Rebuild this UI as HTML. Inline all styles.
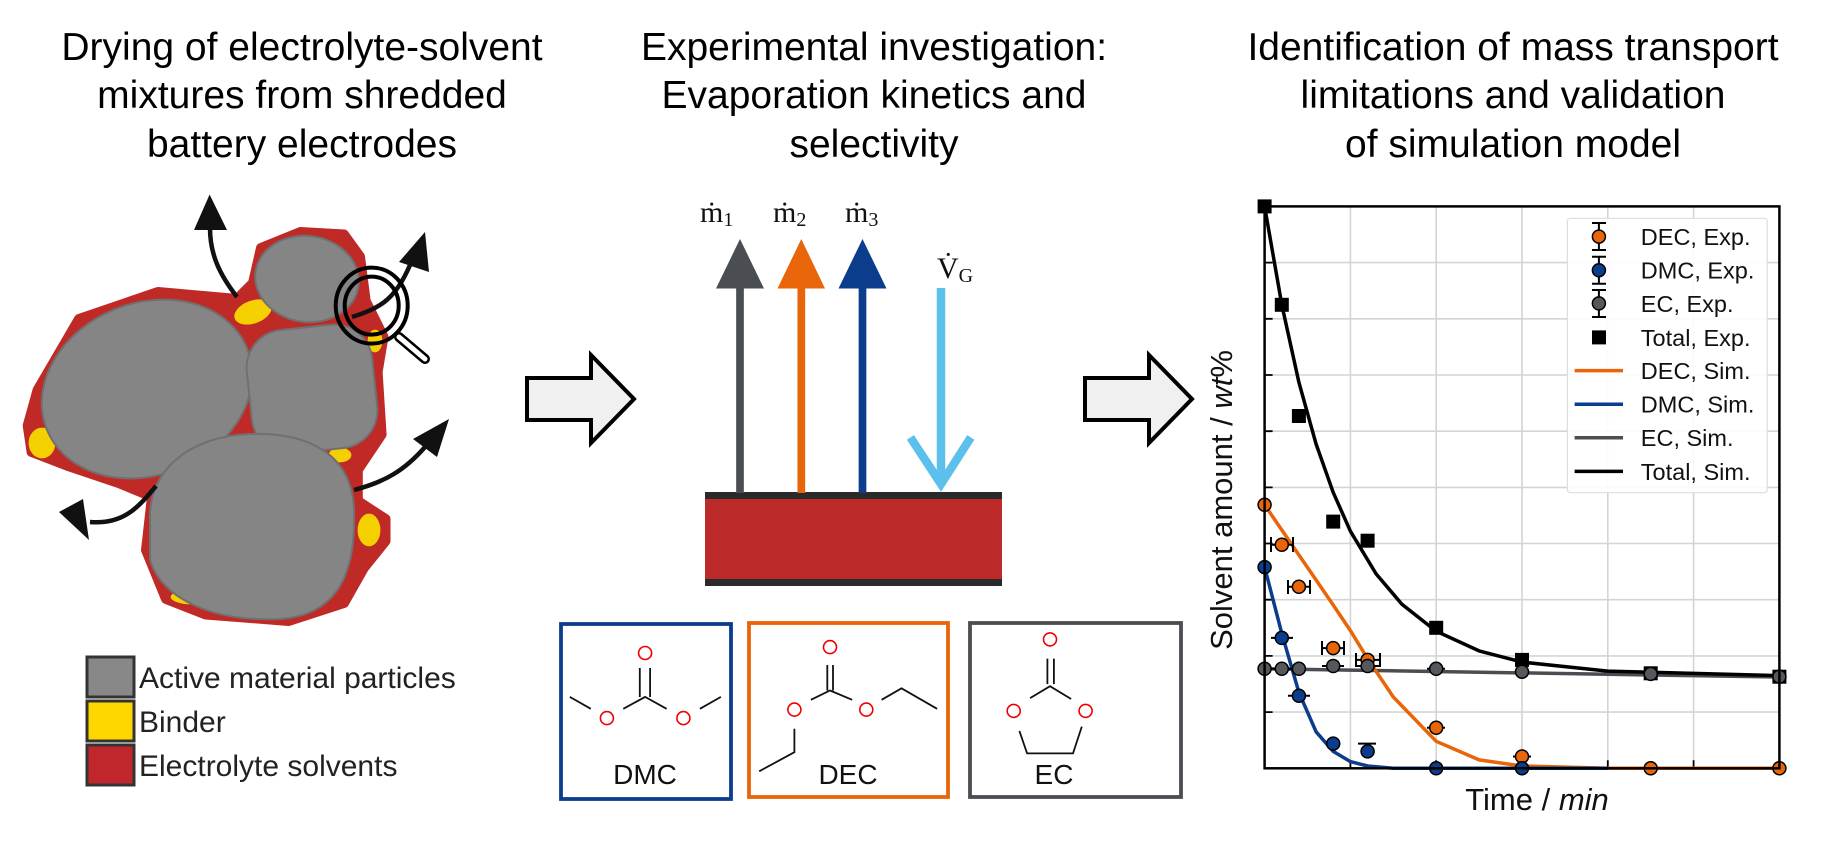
<!DOCTYPE html>
<html><head><meta charset="utf-8"><style>
html,body{margin:0;padding:0;background:#fff;}
svg{display:block;}
text{font-family:"Liberation Sans",Arial,sans-serif;}
.s text{font-family:"Liberation Serif","DejaVu Serif",serif;}
</style></head><body>
<svg width="1833" height="847" viewBox="0 0 1833 847" xmlns="http://www.w3.org/2000/svg">
<rect width="1833" height="847" fill="#fff"/>
<!-- Titles -->
<g font-size="39" fill="#000" text-anchor="middle">
<text x="302" y="60">Drying of electrolyte-solvent</text>
<text x="302" y="108">mixtures from shredded</text>
<text x="302" y="157">battery electrodes</text>
<text x="874" y="60">Experimental investigation:</text>
<text x="874" y="108">Evaporation kinetics and</text>
<text x="874" y="157">selectivity</text>
<text x="1513" y="60">Identification of mass transport</text>
<text x="1513" y="108">limitations and validation</text>
<text x="1513" y="157">of simulation model</text>
</g>

<!-- Panel 1 -->
<polygon points="37.6,390 79,319 158,292 237,299 253,283 261,248 300.5,232 344,234.5 360,256.7 365.7,301 383.5,336.7 377.6,372 381.6,434.5 357.8,470 357.8,501 385.5,519 385.5,541 363.8,568 344,603 288.6,621 205.6,614.5 166,599 146,550 152,496.7 118.6,483 67,465.6 31.6,452 27.7,425.6" fill="#bf2a27" stroke="#bf2a27" stroke-width="10" stroke-linejoin="round"/>
<g fill="#f5d000" stroke="#c0272d" stroke-width="1.2">
<ellipse cx="253" cy="312" rx="20" ry="12" transform="rotate(-20 253 312)"/>
<ellipse cx="172" cy="462" rx="20" ry="13" transform="rotate(-25 172 462)"/>
<ellipse cx="42" cy="443" rx="14" ry="16"/>
<ellipse cx="369" cy="530" rx="12" ry="17"/>
<ellipse cx="192" cy="597" rx="22" ry="8"/>
<ellipse cx="340" cy="455" rx="12" ry="8"/>
<ellipse cx="375" cy="341" rx="8" ry="12"/>
</g>
<g fill="#858585" stroke="#707070" stroke-width="2">
<ellipse cx="147" cy="389" rx="108" ry="86" transform="rotate(-22 147 389)"/>
<ellipse cx="307" cy="279" rx="52" ry="43" transform="rotate(8 307 279)"/>
<rect x="249" y="327" width="126" height="124" rx="38" transform="rotate(-6 312 389)"/>
<path d="M150,520 C148,470 190,436 250,434 C310,432 352,455 354,510 C356,570 340,615 280,619 C215,622 162,600 150,560 Z"/>
</g>
<g fill="none" stroke="#111" stroke-width="4.5">
<path d="M237,297 C220,275 210,255 210,228"/>
<path d="M352,317 C380,308 395,300 410,265"/>
<path d="M354,490 C385,482 405,470 425,447"/>
<path d="M156,486 C140,505 125,525 90,522"/>
</g>
<g fill="#111">
<polygon points="209.6,194.5 194,230 227,230"/>
<polygon points="425,232 399,262 429,272"/>
<polygon points="449,419 413,439 437,457"/>
<polygon points="59,512 83,499 89,540"/>
</g>
<g fill="none" stroke="#000">
<line x1="399" y1="337" x2="425" y2="359" stroke-width="10" stroke-linecap="round"/>
<line x1="399" y1="337" x2="425" y2="359" stroke="#fff" stroke-width="5" stroke-linecap="round"/>
<ellipse cx="371.7" cy="305.6" rx="36" ry="38" stroke-width="4"/>
<ellipse cx="371.7" cy="305.6" rx="27" ry="29" stroke-width="4"/>
</g>
<g stroke="#333" stroke-width="3">
<rect x="87" y="657" width="47" height="40" fill="#888"/>
<rect x="87" y="701" width="47" height="40" fill="#ffd700"/>
<rect x="87" y="745" width="47" height="40" fill="#c0272d"/>
</g>
<g font-size="30" fill="#222">
<text x="139" y="688">Active material particles</text>
<text x="139" y="732">Binder</text>
<text x="139" y="776">Electrolyte solvents</text>
</g>

<!-- hollow arrows -->
<polygon points="527,378 591,378 591,355 634,399 591,443 591,420 527,420" fill="#f0f0f0" stroke="#000" stroke-width="4"/>
<polygon points="1085,378 1149,378 1149,355 1192,399 1149,443 1149,420 1085,420" fill="#f0f0f0" stroke="#000" stroke-width="4"/>

<!-- Panel 2 -->
<rect x="705" y="492" width="297" height="94" fill="#2a2a2a"/>
<rect x="705" y="499" width="297" height="80" fill="#bd2a2a"/>
<g stroke-width="7.7">
<line x1="740" y1="285" x2="740" y2="493" stroke="#4a4d52"/>
<line x1="801.3" y1="285" x2="801.3" y2="493" stroke="#e8650a"/>
<line x1="862.5" y1="285" x2="862.5" y2="493" stroke="#0b3d8c"/>
</g>
<polygon points="740,239 716,288.5 764,288.5" fill="#4a4d52"/>
<polygon points="801.3,239 777.5,288.5 825,288.5" fill="#e8650a"/>
<polygon points="862.5,239 838.5,288.5 886.5,288.5" fill="#0b3d8c"/>
<g stroke="#5bc0eb" stroke-width="8.5" fill="none">
<line x1="941" y1="288" x2="941" y2="484"/>
<polyline points="910.4,437.4 941,484 970.8,437.4"/>
</g>
<g class="s" fill="#111" font-size="30">
<text x="700" y="222">ṁ<tspan font-size="20" dy="4">1</tspan></text>
<text x="773" y="222">ṁ<tspan font-size="20" dy="4">2</tspan></text>
<text x="845" y="222">ṁ<tspan font-size="20" dy="4">3</tspan></text>
<text x="937" y="278">V̇<tspan font-size="20" dy="4">G</tspan></text>
</g>
<g fill="none" stroke-width="3.8">
<rect x="561" y="624" width="170" height="175" stroke="#0b3d8c"/>
<rect x="749" y="623" width="199" height="174" stroke="#e8650a"/>
<rect x="970" y="623" width="211" height="174" stroke="#4a4d52"/>
</g>
<g fill="none" stroke="#111" stroke-width="1.8">
<line x1="639.8" y1="668" x2="639.8" y2="697"/><line x1="650.1" y1="668" x2="650.1" y2="697"/>
<polyline points="623.3,708.8 645.1,696.9 666.6,708.8"/>
<line x1="590.8" y1="708.8" x2="569.8" y2="696.9"/><line x1="699.9" y1="708.8" x2="720.9" y2="696.9"/>
<line x1="827.3" y1="665" x2="827.3" y2="690.5"/><line x1="833" y1="665" x2="833" y2="690.5"/>
<polyline points="810.9,699.8 830,690.5 852.2,699.8"/>
<polyline points="881.6,699.8 901.5,688.3 937.1,708.8"/>
<polyline points="794.4,728.8 794.4,752.2 759.2,771.3"/>
<line x1="1047.4" y1="658.6" x2="1047.4" y2="684.1"/><line x1="1053.9" y1="658.6" x2="1053.9" y2="684.1"/>
<polyline points="1030.1,698.1 1050,686.2 1071.1,699"/>
<polyline points="1019.4,730.9 1027.1,753.4 1073,753.4 1081.8,726.6"/>
</g>
<g fill="none" stroke="#e00" stroke-width="1.6">
<circle cx="645.1" cy="653" r="6.5"/><circle cx="606.9" cy="718.1" r="6.5"/><circle cx="683.4" cy="718.1" r="6.5"/>
<circle cx="830" cy="647.1" r="6.5"/><circle cx="794.4" cy="709.6" r="6.5"/><circle cx="866.3" cy="709.6" r="6.5"/>
<circle cx="1050" cy="639.4" r="6.5"/><circle cx="1013.7" cy="710.9" r="6.5"/><circle cx="1085.6" cy="710.9" r="6.5"/>
</g>
<g font-size="28" fill="#111" text-anchor="middle">
<text x="645" y="784">DMC</text><text x="848" y="784">DEC</text><text x="1054" y="784">EC</text>
</g>

<!-- Panel 3 plot -->
<g stroke="#d4d4d4" stroke-width="1.6">
<line x1="1350.4" y1="206.4" x2="1350.4" y2="768.3"/>
<line x1="1436.2" y1="206.4" x2="1436.2" y2="768.3"/>
<line x1="1522" y1="206.4" x2="1522" y2="768.3"/>
<line x1="1607.8" y1="206.4" x2="1607.8" y2="768.3"/>
<line x1="1693.6" y1="206.4" x2="1693.6" y2="768.3"/>
<line x1="1264.6" y1="262.6" x2="1779.4" y2="262.6"/>
<line x1="1264.6" y1="318.8" x2="1779.4" y2="318.8"/>
<line x1="1264.6" y1="375" x2="1779.4" y2="375"/>
<line x1="1264.6" y1="431.2" x2="1779.4" y2="431.2"/>
<line x1="1264.6" y1="487.4" x2="1779.4" y2="487.4"/>
<line x1="1264.6" y1="543.5" x2="1779.4" y2="543.5"/>
<line x1="1264.6" y1="599.7" x2="1779.4" y2="599.7"/>
<line x1="1264.6" y1="655.9" x2="1779.4" y2="655.9"/>
<line x1="1264.6" y1="712.1" x2="1779.4" y2="712.1"/>
</g>
<g stroke="#000" stroke-width="1.8">
<path d="M1264.6,262.6h8M1264.6,318.8h8M1264.6,375h8M1264.6,431.2h8M1264.6,487.4h8M1264.6,543.5h8M1264.6,599.7h8M1264.6,655.9h8M1264.6,712.1h8"/>
<path d="M1350.4,768.3v-8M1436.2,768.3v-8M1522,768.3v-8M1607.8,768.3v-8M1693.6,768.3v-8"/>
</g>
<g fill="none" stroke-width="3.5" stroke-linejoin="round">
<polyline stroke="#4a4d52" points="1264.6,668.8 1779.4,677"/>
<polyline stroke="#e8650a" points="1264.6,504.8 1281.8,530 1298.9,555 1316.1,580 1333.2,605 1350.4,630.6 1367.6,658.7 1393.3,697 1436.2,741.3 1479.1,759.9 1522,766 1607.8,768.3 1779.4,768.3"/>
<polyline stroke="#0b3d8c" points="1264.6,567.1 1281.8,633.4 1298.9,692.4 1316.1,731.8 1333.2,751.4 1350.4,761.6 1367.6,766 1393.3,768.3 1607.8,768.3"/>
<polyline stroke="#000" points="1264.6,206.4 1281.8,304.7 1298.9,382.3 1316.1,444.1 1333.2,492.4 1350.4,531.2 1376.1,573.9 1401.9,604.2 1436.2,631.2 1479.1,650.9 1522,662.1 1607.8,671.1 1779.4,675.6"/>
</g>
<g stroke="#000" stroke-width="2">
<path d="M1271,544.7h22M1271,537v15M1293,537v15"/>
<path d="M1288,586.8h22M1288,580v14M1310,580v14"/>
<path d="M1322,648.1h22M1322,641v14M1344,641v14"/>
<path d="M1356,659.9h24M1356,653v14M1380,653v14"/>
<path d="M1427,727.8h18"/><path d="M1513,756.5h18"/>
<path d="M1271,637.9h22M1288,695.8h22M1358,743.6h18"/>
<path d="M1271,668.8h32M1322,666h22M1356,666h24M1427,668.8h18"/>
</g>
<g fill="#000">
<rect x="1257.6" y="199.4" width="14" height="14"/><rect x="1274.8" y="297.8" width="14" height="14"/>
<rect x="1291.9" y="409" width="14" height="14"/><rect x="1326.2" y="514.6" width="14" height="14"/>
<rect x="1360.6" y="533.7" width="14" height="14"/><rect x="1429.2" y="620.8" width="14" height="14"/>
<rect x="1515" y="652.9" width="14" height="14"/><rect x="1643.7" y="666.3" width="14" height="14"/>
<rect x="1772.4" y="669.7" width="14" height="14"/>
</g>
<g stroke="#000" stroke-width="1.5">
<g fill="#e8650a">
<circle cx="1264.6" cy="504.8" r="6.5"/><circle cx="1281.8" cy="544.7" r="6.5"/><circle cx="1298.9" cy="586.8" r="6.5"/>
<circle cx="1333.2" cy="648.1" r="6.5"/><circle cx="1367.6" cy="659.9" r="6.5"/><circle cx="1436.2" cy="727.8" r="6.5"/>
<circle cx="1522" cy="756.5" r="6.5"/><circle cx="1650.7" cy="768.3" r="6.5"/><circle cx="1779.4" cy="768.3" r="6.5"/>
</g>
<g fill="#0b3d8c">
<circle cx="1264.6" cy="567.1" r="6.5"/><circle cx="1281.8" cy="637.9" r="6.5"/><circle cx="1298.9" cy="695.8" r="6.5"/>
<circle cx="1333.2" cy="743.6" r="6.5"/><circle cx="1367.6" cy="751.4" r="6.5"/><circle cx="1436.2" cy="768.3" r="6.5"/>
<circle cx="1522" cy="768.3" r="6.5"/>
</g>
<g fill="#55585c">
<circle cx="1264.6" cy="668.8" r="6.5"/><circle cx="1281.8" cy="668.8" r="6.5"/><circle cx="1298.9" cy="668.8" r="6.5"/>
<circle cx="1333.2" cy="666" r="6.5"/><circle cx="1367.6" cy="666" r="6.5"/><circle cx="1436.2" cy="668.8" r="6.5"/>
<circle cx="1522" cy="671.7" r="6.5"/><circle cx="1650.7" cy="673.9" r="6.5"/><circle cx="1779.4" cy="676.7" r="6.5"/>
</g>
</g>
<rect x="1264.6" y="206.4" width="514.8" height="561.9" fill="none" stroke="#000" stroke-width="2.5"/>
<rect x="1567.4" y="218.3" width="199.8" height="274.4" rx="3" fill="#fff" fill-opacity="0.9" stroke="#ddd" stroke-width="1.2"/>
<g stroke="#000" stroke-width="2">
<path d="M1598.9,223v27M1592,223h14M1592,250h14"/>
<path d="M1598.9,256.7v27M1592,256.7h14M1592,283.7h14"/>
<path d="M1598.9,290v27M1592,290h14M1592,317h14"/>
</g>
<g stroke="#000" stroke-width="1.5">
<circle cx="1598.9" cy="236.6" r="6.5" fill="#e8650a"/>
<circle cx="1598.9" cy="270.2" r="6.5" fill="#0b3d8c"/>
<circle cx="1598.9" cy="303.4" r="6.5" fill="#55585c"/>
</g>
<rect x="1592" y="330.4" width="14" height="14" fill="#000"/>
<g stroke-width="3.5">
<line x1="1574.6" y1="370.6" x2="1623" y2="370.6" stroke="#e8650a"/>
<line x1="1574.6" y1="404.2" x2="1623" y2="404.2" stroke="#0b3d8c"/>
<line x1="1574.6" y1="437.8" x2="1623" y2="437.8" stroke="#4a4d52"/>
<line x1="1574.6" y1="471.4" x2="1623" y2="471.4" stroke="#000"/>
</g>
<g font-size="23.5" fill="#111">
<text x="1640.8" y="245">DEC, Exp.</text>
<text x="1640.8" y="278.6">DMC, Exp.</text>
<text x="1640.8" y="311.8">EC, Exp.</text>
<text x="1640.8" y="345.8">Total, Exp.</text>
<text x="1640.8" y="379">DEC, Sim.</text>
<text x="1640.8" y="412.6">DMC, Sim.</text>
<text x="1640.8" y="446.2">EC, Sim.</text>
<text x="1640.8" y="479.8">Total, Sim.</text>
</g>
<text x="1537" y="810" font-size="31" fill="#111" text-anchor="middle">Time / <tspan font-style="italic">min</tspan></text>
<text transform="translate(1232,500) rotate(-90)" font-size="31" fill="#111" text-anchor="middle">Solvent amount / <tspan font-style="italic">wt</tspan>%</text>
</svg>
</body></html>
